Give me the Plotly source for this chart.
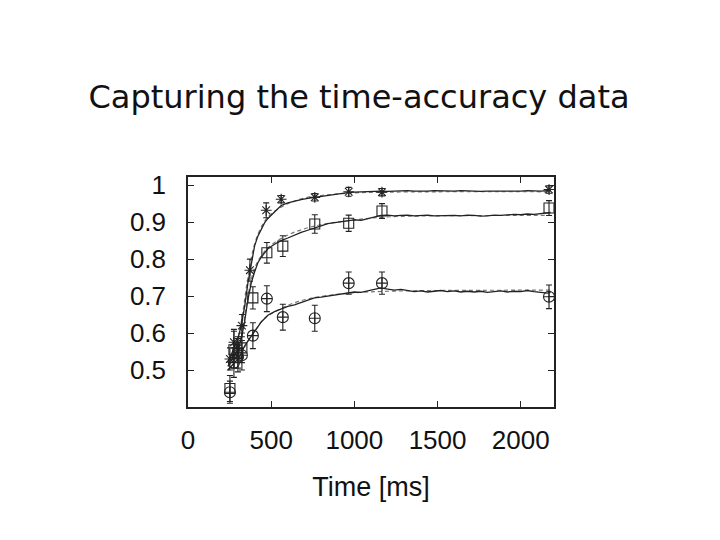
import plotly.graph_objects as go

# --- data ---
# shared time grid of the noisy (solid) model curves, ms
CURVE_T = [240, 260, 280, 300, 320, 340, 360, 380, 400, 420, 440, 460, 480,
           520, 560, 600, 640, 680, 720, 760, 800, 840, 880,
           920, 960, 1000, 1040, 1080, 1120, 1160, 1200, 1240, 1280,
           1320, 1360, 1400, 1440, 1480, 1520, 1560, 1600, 1640, 1680,
           1720, 1760, 1800, 1840, 1880, 1920, 1960, 2000, 2040, 2080,
           2120, 2160, 2180]

CURVE_STAR = [0.520, 0.540, 0.560, 0.585, 0.620, 0.670, 0.735, 0.790, 0.835, 0.862, 0.882, 0.898, 0.910,
              0.928, 0.945, 0.952, 0.957, 0.961, 0.964, 0.967, 0.970, 0.973, 0.976,
              0.978, 0.980, 0.981, 0.982, 0.981, 0.983, 0.984, 0.983, 0.984, 0.983,
              0.985, 0.984, 0.983, 0.984, 0.985, 0.984, 0.983, 0.984, 0.985, 0.984,
              0.984, 0.983, 0.984, 0.985, 0.984, 0.984, 0.983, 0.984, 0.985, 0.984,
              0.984, 0.985, 0.985]

CURVE_SQUARE = [0.510, 0.525, 0.540, 0.555, 0.585, 0.630, 0.690, 0.735, 0.765, 0.790, 0.805, 0.818, 0.828,
                0.840, 0.850, 0.857, 0.865, 0.872, 0.878, 0.885, 0.890, 0.896, 0.899,
                0.902, 0.903, 0.906, 0.905, 0.910, 0.914, 0.918, 0.919, 0.917, 0.918,
                0.919, 0.917, 0.918, 0.919, 0.917, 0.918, 0.919, 0.918, 0.917, 0.919,
                0.918, 0.916, 0.917, 0.919, 0.918, 0.920, 0.921, 0.920, 0.922, 0.921,
                0.923, 0.925, 0.926]

CURVE_CIRCLE = [0.500, 0.510, 0.520, 0.530, 0.545, 0.565, 0.578, 0.590, 0.603, 0.617, 0.630, 0.640, 0.648,
                0.658, 0.666, 0.672, 0.676, 0.683, 0.690, 0.695, 0.697, 0.700, 0.704,
                0.706, 0.708, 0.711, 0.710, 0.714, 0.718, 0.722, 0.719, 0.716, 0.718,
                0.714, 0.712, 0.714, 0.711, 0.713, 0.715, 0.712, 0.714, 0.711, 0.713,
                0.711, 0.713, 0.710, 0.712, 0.714, 0.711, 0.713, 0.712, 0.715, 0.712,
                0.710, 0.708, 0.710]

# smooth (dashed) fits
FIT_T = [240, 280, 320, 360, 400, 450, 500, 600, 700, 800, 1000, 1200, 1500, 2180]
FIT_STAR = [0.52, 0.555, 0.63, 0.75, 0.84, 0.895, 0.922, 0.950, 0.965, 0.972, 0.979, 0.981, 0.982, 0.982]
FIT_SQUARE = [0.51, 0.54, 0.59, 0.70, 0.775, 0.815, 0.838, 0.865, 0.882, 0.893, 0.906, 0.914, 0.917, 0.918]
FIT_CIRCLE = [0.50, 0.52, 0.545, 0.578, 0.605, 0.635, 0.652, 0.675, 0.690, 0.699, 0.709, 0.713, 0.715, 0.716]

# measured points with error bars
STAR_T = [252, 276, 300, 324, 372, 470, 560, 762, 966, 1166, 2170]
STAR_ACC = [0.53, 0.575, 0.56, 0.62, 0.77, 0.932, 0.962, 0.967, 0.982, 0.981, 0.988]
STAR_ERR = [0.03, 0.035, 0.03, 0.03, 0.03, 0.02, 0.01, 0.01, 0.012, 0.01, 0.01]

SQUARE_T = [252, 276, 300, 324, 390, 474, 570, 762, 966, 1166, 2170]
SQUARE_ACC = [0.45, 0.555, 0.545, 0.56, 0.695, 0.817, 0.835, 0.895, 0.897, 0.93, 0.938]
SQUARE_ERR = [0.035, 0.05, 0.04, 0.04, 0.03, 0.028, 0.028, 0.025, 0.022, 0.02, 0.02]

CIRCLE_T = [252, 276, 300, 324, 390, 474, 570, 762, 966, 1166, 2170]
CIRCLE_ACC = [0.44, 0.52, 0.535, 0.54, 0.593, 0.693, 0.643, 0.64, 0.735, 0.735, 0.698]
CIRCLE_ERR = [0.03, 0.04, 0.04, 0.04, 0.035, 0.035, 0.035, 0.035, 0.03, 0.03, 0.032]

X_TICKS = [0, 500, 1000, 1500, 2000]
Y_TICKS = [0.5, 0.6, 0.7, 0.8, 0.9, 1.0]
Y_TICK_TEXT = ["0.5", "0.6", "0.7", "0.8", "0.9", "1"]

INK = "#222222"
FIT_INK = "#777777"
AXIS_FONT = "Liberation Sans, Arial, sans-serif"

fig = go.Figure()

# dashed fits underneath
for ys in (FIT_STAR, FIT_SQUARE, FIT_CIRCLE):
    fig.add_trace(go.Scatter(
        x=FIT_T, y=ys, mode="lines", line_shape="spline",
        line=dict(color=FIT_INK, width=1.2, dash="4px,3px"),
        showlegend=False, hoverinfo="skip",
    ))

# noisy model curves
for ys in (CURVE_STAR, CURVE_SQUARE, CURVE_CIRCLE):
    fig.add_trace(go.Scatter(
        x=CURVE_T, y=ys, mode="lines",
        line=dict(color=INK, width=1.3),
        showlegend=False, hoverinfo="skip",
    ))

# data points
for xs, ys, err, sym, size in (
    (STAR_T, STAR_ACC, STAR_ERR, "asterisk-open", 9),
    (SQUARE_T, SQUARE_ACC, SQUARE_ERR, "square-open", 10),
    (CIRCLE_T, CIRCLE_ACC, CIRCLE_ERR, "circle-cross-open", 11),
):
    fig.add_trace(go.Scatter(
        x=xs, y=ys, mode="markers",
        marker=dict(symbol=sym, size=size, color=INK, line=dict(color=INK, width=1.1)),
        error_y=dict(type="data", array=err, color=INK, thickness=1.1, width=3),
        showlegend=False,
    ))

# the page body adds an 8px offset, margins are set 8px smaller on top/left
fig.update_layout(
    width=720, height=540,
    paper_bgcolor="white", plot_bgcolor="white",
    margin=dict(l=180, r=174, t=169, b=141),
    title=dict(
        text="Capturing the time-accuracy data",
        x=351 / 720, xanchor="center", xref="container",
        y=1 - 89 / 540, yanchor="middle", yref="container",
        font=dict(family="DejaVu Sans", size=32, color="#111111"),
    ),
    font=dict(family=AXIS_FONT, color="#111111"),
    xaxis=dict(
        range=[0, 2200], tickvals=X_TICKS,
        ticks="inside", ticklen=6, tickcolor=INK, tickwidth=1.2,
        showline=True, linecolor=INK, linewidth=1.5, mirror="ticks",
        showgrid=False, zeroline=False,
        tickfont=dict(family=AXIS_FONT, size=26), ticklabelstandoff=9,
        title=dict(text="Time [ms]", font=dict(family=AXIS_FONT, size=27), standoff=23),
    ),
    yaxis=dict(
        range=[0.4, 1.022], tickvals=Y_TICKS, ticktext=Y_TICK_TEXT,
        ticks="inside", ticklen=6, tickcolor=INK, tickwidth=1.2,
        showline=True, linecolor=INK, linewidth=1.5, mirror="ticks",
        showgrid=False, zeroline=False,
        tickfont=dict(family=AXIS_FONT, size=26), ticklabelstandoff=15,
    ),
)

fig.write_html("out.html")
